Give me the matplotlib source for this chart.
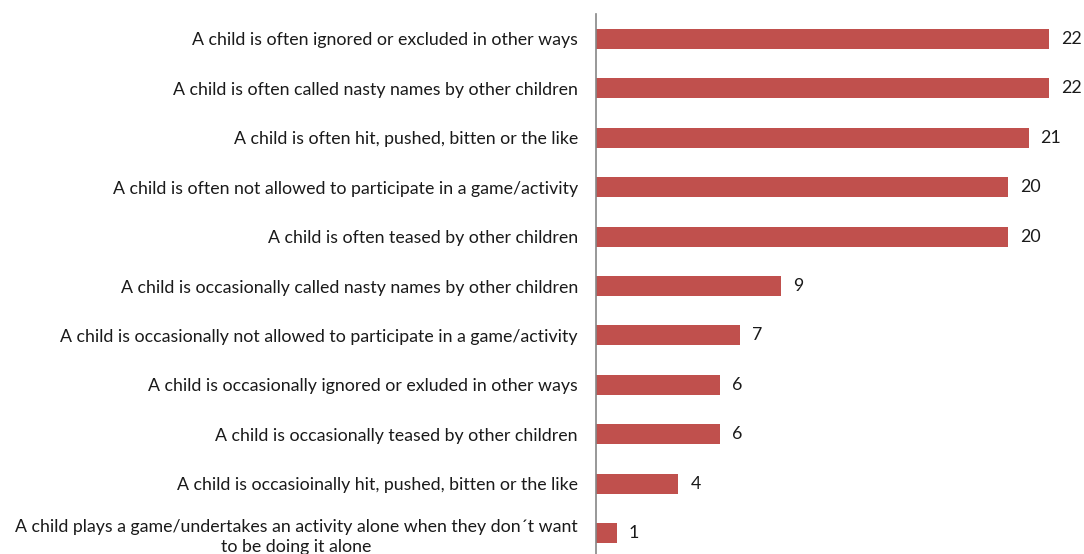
import matplotlib.pyplot as plt

plt.rcParams['font.family'] = ['Lato', 'DejaVu Sans']

categories = [
    'A child is often ignored or excluded in other ways',
    'A child is often called nasty names by other children',
    'A child is often hit, pushed, bitten or the like',
    'A child is often not allowed to participate in a game/activity',
    'A child is often teased by other children',
    'A child is occasionally called nasty names by other children',
    'A child is occasionally not allowed to participate in a game/activity',
    'A child is occasionally ignored or exluded in other ways',
    'A child is occasionally teased by other children',
    'A child is occasioinally hit, pushed, bitten or the like',
    'A child plays a game/undertakes an activity alone when they don\u00b4t want\nto be doing it alone',
]
values = [22, 22, 21, 20, 20, 9, 7, 6, 6, 4, 1]

W, H = 1084, 554
fig = plt.figure(figsize=(W / 100, H / 100), dpi=100)

# axes placed in pixel units: left edge at the vertical axis line
left, top, bottom = 596, 14, 558
xmax = 23
px_per_unit = 20.6
ax = fig.add_axes([left / W, 1 - bottom / H, xmax * px_per_unit / W, (bottom - top) / H])

pos = list(range(len(values)))
ax.barh(pos, values, height=0.405, color='#C0504D')
ax.set_ylim(len(values) - 0.5, -0.5)
ax.set_xlim(0, xmax)

for y, v in zip(pos, values):
    ax.annotate(str(v), (v, y), xytext=(12, 0), textcoords='offset pixels',
                ha='left', va='center', fontsize=12.8, color='#1a1a1a')

ax.set_yticks(pos)
ax.set_yticklabels(categories, fontsize=12.8, color='#1a1a1a',
                   multialignment='center', linespacing=1.35)
ax.tick_params(axis='y', length=0, pad=13)
ax.set_xticks([])

for s in ['top', 'right', 'bottom']:
    ax.spines[s].set_visible(False)
ax.spines['left'].set_color('#868686')
ax.spines['left'].set_linewidth(1.2)

fig.savefig('out.png', dpi=100)
